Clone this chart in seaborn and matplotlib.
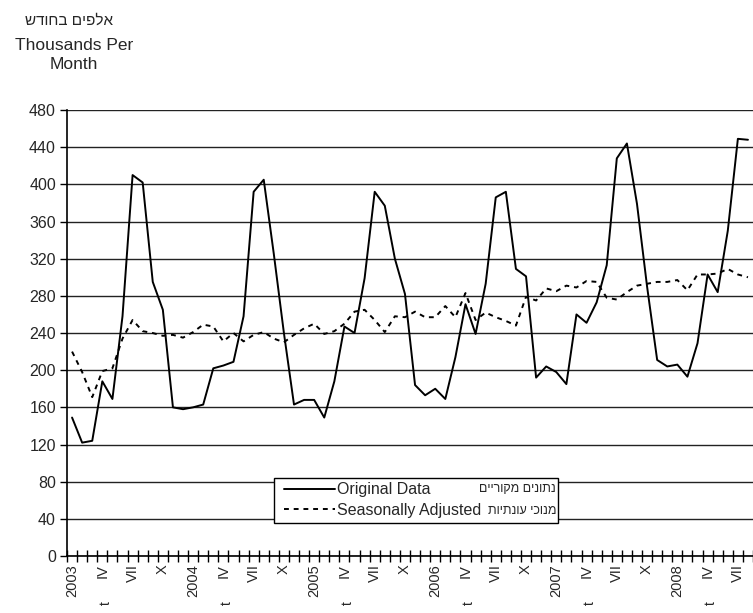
import numpy as np
import pandas as pd
import matplotlib
matplotlib.use('Agg')
import matplotlib.pyplot as plt
import matplotlib.transforms as mtransforms
from matplotlib.patches import Rectangle
import seaborn as sns

# monthly data, Jan 2003 .. Aug 2008 (thousands per month)
original = [149, 122, 124, 188, 169, 258, 410, 402, 295, 265, 160, 158,
            160, 163, 202, 205, 209, 258, 392, 405, 325, 240, 163, 168,
            168, 149, 188, 247, 240, 299, 392, 377, 320, 282, 184, 173,
            180, 169, 214, 271, 239, 293, 386, 392, 309, 301, 192, 204,
            198, 185, 260, 251, 273, 313, 428, 444, 379, 290, 211, 204,
            206, 193, 229, 303, 284, 350, 449, 448]
seasonal = [220, 198, 171, 199, 202, 234, 254, 242, 240, 237, 238, 235,
            241, 249, 247, 231, 240, 231, 238, 241, 234, 230, 238, 245,
            250, 239, 242, 250, 263, 265, 254, 241, 258, 257, 263, 257,
            257, 269, 257, 283, 254, 262, 257, 253, 248, 279, 275, 288,
            285, 291, 289, 296, 295, 278, 276, 284, 291, 293, 295, 295,
            297, 286, 303, 303, 304, 309, 303, 300]
years = ['2003', '2004', '2005', '2006', '2007', '2008']
quarter_marks = ['IV', 'VII', 'X']
series_names = ['Original Data', 'Seasonally Adjusted']
series_names_he = ['נתונים מקוריים', 'מנוכי עונתיות']
ylabel_he = 'אלפים בחודש'
ylabel_en = 'Thousands Per\nMonth'
yticks = list(range(0, 481, 40))


def rtl(s):
    # matplotlib has no bidi support: reverse Hebrew for display
    return s[::-1]


n = len(original)
idx = np.arange(n)
df = pd.DataFrame({
    'month': np.concatenate([idx, idx]),
    'value': original + seasonal,
    'series': [series_names[0]] * n + [series_names[1]] * n,
})

sns.set_style('white')
plt.rcParams['font.family'] = ['Liberation Sans', 'DejaVu Sans']

fig = plt.figure(figsize=(7.53, 6.13), dpi=100)
ax = fig.add_axes([0.089, 0.093, 0.911, 0.7275])

sns.lineplot(data=df, x='month', y='value', hue='series', style='series',
             palette=['black', 'black'], dashes=[(None, None), (2.5, 2.5)],
             linewidth=1.4, ax=ax, legend=True)

ax.set_xlim(-0.5, n - 0.5)
ax.set_ylim(0, 480)
ax.set_yticks(yticks)
ax.yaxis.grid(True, color='#222222', linewidth=1.0)
ax.set_axisbelow(True)
for s in ['top', 'right']:
    ax.spines[s].set_visible(False)
for s in ['left', 'bottom']:
    ax.spines[s].set_color('black')
    ax.spines[s].set_linewidth(1.2)
ax.tick_params(axis='y', which='major', direction='out', length=5, width=1,
               color='black', labelsize=11.5, pad=3, left=True)

# month boundaries as crossing ticks, labels at category centres
ax.set_xticks(np.arange(-0.5, n, 1.0))
ax.set_xticklabels([])
ax.tick_params(axis='x', which='major', direction='inout', length=9, width=1,
               color='black', bottom=True)
lab_pos, lab_txt = [], []
for i in range(0, n, 3):
    lab_pos.append(i)
    lab_txt.append(years[i // 12] if i % 12 == 0 else quarter_marks[(i % 12) // 3 - 1])
ax.set_xticks(lab_pos, minor=True)
ax.set_xticklabels(lab_txt, minor=True, rotation=90, fontsize=10.5)
ax.tick_params(axis='x', which='minor', length=0, pad=6)
ax.set_xlabel('')
ax.set_ylabel('')

trans = mtransforms.blended_transform_factory(ax.transData, ax.transAxes)
for i in range(3, n, 12):
    ax.text(i + 0.3, -0.102, 't', transform=trans, rotation=90,
            ha='center', va='top', fontsize=10)

# legend: white box drawn separately, Hebrew names to the right
ax.add_patch(Rectangle((0.3017, 0.074), 0.414, 0.101, transform=ax.transAxes,
                       facecolor='white', edgecolor='black', linewidth=1.0,
                       zorder=5))
leg = ax.legend(loc='center left', bbox_to_anchor=(0.316, 0.1256), fontsize=11.5,
                frameon=False, handlelength=3.2, handletextpad=0.15,
                borderpad=0, labelspacing=0.35, borderaxespad=0)
leg.set_zorder(6)
for name_he, ypos in zip(series_names_he, [0.150, 0.101]):
    ax.text(0.713, ypos, rtl(name_he), transform=ax.transAxes, ha='right',
            va='center', fontsize=9, zorder=6)

fig.text(0.092, 0.967, rtl(ylabel_he), ha='center', va='center', fontsize=11)
fig.text(0.098, 0.91, ylabel_en, ha='center', va='center', fontsize=12.5,
         linespacing=1.3)

fig.savefig('out.png', dpi=100)
